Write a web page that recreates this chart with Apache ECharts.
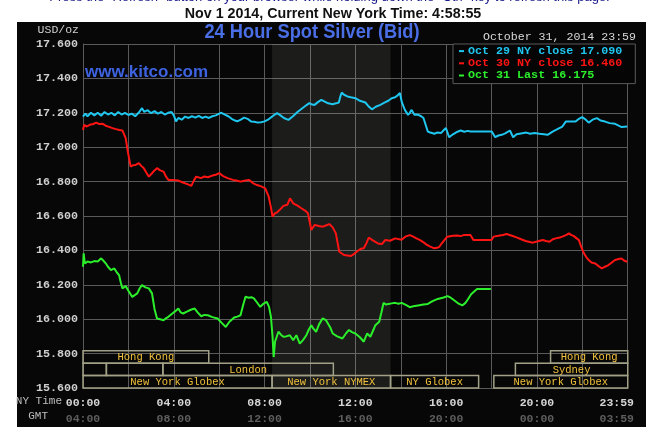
<!DOCTYPE html>
<html><head><meta charset="utf-8">
<script src="https://cdn.jsdelivr.net/npm/echarts/dist/echarts.min.js"></script>
<style>
html,body{margin:0;padding:0;background:#fff;}
#wrap{position:relative;width:659px;height:427px;overflow:hidden;}
#panel{position:absolute;left:17px;top:22px;width:629px;height:405px;background:#070707;}
#chart{position:absolute;left:0;top:0;width:659px;height:427px;}
</style></head><body>
<div id="wrap"><div id="panel"></div><div id="chart"></div></div>
<script>
// ---- data (hours since 00:00 NY time, USD/oz) ----
const seriesNames = ['Oct 29 NY close', 'Oct 30 NY close', 'Oct 31 Last'];
const closeValues = [17.090, 16.460, 16.175];
const seriesColors = ['#1fc6ef', '#ff1414', '#2cef2c'];

const oct29Data = [[0,17.178],[0.1,17.195],[0.2,17.18],[0.35,17.2],[0.5,17.185],[0.65,17.2],[0.8,17.183],[0.95,17.205],[1.1,17.19],[1.25,17.2],[1.4,17.185],[1.55,17.205],[1.7,17.19],[1.85,17.2],[2.0,17.187],[2.15,17.195],[2.3,17.18],[2.45,17.2],[2.6,17.227],[2.7,17.205],[2.85,17.215],[3.0,17.198],[3.15,17.21],[3.3,17.195],[3.45,17.205],[3.6,17.19],[3.75,17.2],[3.9,17.205],[4.0,17.185],[4.1,17.15],[4.2,17.17],[4.35,17.16],[4.5,17.178],[4.65,17.17],[4.8,17.18],[4.95,17.172],[5.1,17.182],[5.25,17.17],[5.4,17.178],[5.55,17.17],[5.7,17.18],[5.85,17.185],[6.0,17.195],[6.1,17.2],[6.25,17.19],[6.4,17.18],[6.55,17.165],[6.7,17.155],[6.8,17.15],[6.95,17.16],[7.1,17.172],[7.25,17.165],[7.4,17.15],[7.55,17.148],[7.7,17.143],[7.85,17.145],[8.0,17.15],[8.15,17.16],[8.3,17.175],[8.45,17.19],[8.55,17.198],[8.7,17.185],[8.85,17.17],[9.05,17.159],[9.25,17.18],[9.45,17.205],[9.65,17.225],[9.85,17.245],[9.97,17.256],[10.1,17.248],[10.2,17.246],[10.35,17.262],[10.5,17.275],[10.65,17.265],[10.8,17.255],[11.0,17.25],[11.15,17.255],[11.27,17.26],[11.35,17.3],[11.4,17.318],[11.5,17.305],[11.65,17.295],[11.8,17.29],[12.0,17.285],[12.2,17.27],[12.44,17.26],[12.6,17.235],[12.73,17.22],[12.9,17.235],[13.1,17.246],[13.3,17.26],[13.45,17.27],[13.6,17.285],[13.75,17.29],[13.85,17.3],[13.96,17.315],[14.05,17.26],[14.18,17.217],[14.32,17.188],[14.4,17.2],[14.47,17.217],[14.55,17.2],[14.61,17.188],[14.75,17.19],[14.9,17.18],[15.0,17.17],[15.08,17.159],[15.19,17.091],[15.3,17.085],[15.48,17.078],[15.6,17.085],[15.77,17.082],[15.9,17.1],[15.99,17.111],[16.13,17.058],[16.3,17.075],[16.5,17.09],[16.64,17.097],[16.8,17.09],[16.95,17.095],[17.07,17.091],[18.01,17.091],[18.16,17.058],[18.3,17.068],[18.45,17.072],[18.6,17.08],[18.81,17.097],[18.95,17.058],[19.1,17.075],[19.3,17.08],[19.53,17.085],[19.7,17.078],[19.9,17.082],[20.11,17.078],[20.3,17.075],[20.47,17.072],[20.69,17.091],[20.9,17.105],[21.12,17.12],[21.27,17.149],[21.5,17.15],[21.7,17.149],[21.85,17.165],[21.99,17.175],[22.15,17.16],[22.28,17.143],[22.45,17.16],[22.64,17.169],[22.8,17.155],[23.0,17.149],[23.2,17.14],[23.44,17.136],[23.6,17.125],[23.73,17.117],[23.98,17.12]];

const oct30Data = [[0,17.10],[0.05,17.13],[0.15,17.12],[0.3,17.13],[0.45,17.135],[0.58,17.143],[0.7,17.135],[0.87,17.136],[1.0,17.125],[1.15,17.118],[1.3,17.111],[1.45,17.105],[1.6,17.1],[1.74,17.097],[1.88,17.053],[1.98,16.97],[2.1,16.887],[2.2,16.895],[2.32,16.897],[2.46,16.907],[2.58,16.89],[2.68,16.878],[2.8,16.85],[2.9,16.829],[3.05,16.85],[3.15,16.865],[3.26,16.878],[3.4,16.865],[3.55,16.858],[3.65,16.83],[3.76,16.81],[3.95,16.81],[4.2,16.806],[4.4,16.795],[4.6,16.785],[4.77,16.775],[4.9,16.81],[4.99,16.829],[5.2,16.82],[5.35,16.83],[5.5,16.825],[5.7,16.835],[5.85,16.84],[6.0,16.849],[6.2,16.83],[6.37,16.82],[6.6,16.81],[6.8,16.805],[6.94,16.80],[7.1,16.805],[7.31,16.81],[7.5,16.79],[7.67,16.78],[7.85,16.772],[8.03,16.761],[8.18,16.713],[8.28,16.65],[8.35,16.596],[8.45,16.615],[8.54,16.62],[8.7,16.64],[8.83,16.659],[9.0,16.665],[9.12,16.703],[9.26,16.674],[9.45,16.66],[9.62,16.645],[9.8,16.63],[9.91,16.616],[10.06,16.519],[10.2,16.548],[10.4,16.542],[10.56,16.538],[10.7,16.545],[10.85,16.553],[11.0,16.534],[11.14,16.499],[11.29,16.392],[11.5,16.373],[11.65,16.37],[11.79,16.367],[11.95,16.38],[12.08,16.395],[12.25,16.41],[12.37,16.412],[12.5,16.445],[12.59,16.475],[12.75,16.46],[12.88,16.45],[13.0,16.44],[13.17,16.437],[13.31,16.46],[13.53,16.456],[13.75,16.47],[14.04,16.462],[14.2,16.48],[14.4,16.489],[14.55,16.48],[14.69,16.47],[14.85,16.46],[14.97,16.45],[15.12,16.435],[15.3,16.422],[15.48,16.412],[15.6,16.415],[15.7,16.421],[15.8,16.44],[15.92,16.46],[16.05,16.48],[16.13,16.489],[16.3,16.485],[16.5,16.487],[16.64,16.483],[16.8,16.49],[17.07,16.489],[17.2,16.46],[18.0,16.46],[18.09,16.48],[18.3,16.485],[18.5,16.49],[18.66,16.495],[18.9,16.485],[19.1,16.476],[19.3,16.465],[19.5,16.455],[19.82,16.445],[20.0,16.452],[20.26,16.46],[20.4,16.455],[20.55,16.45],[20.7,16.465],[20.83,16.47],[21.0,16.475],[21.12,16.48],[21.3,16.49],[21.41,16.499],[21.5,16.49],[21.63,16.483],[21.75,16.47],[21.85,16.46],[21.95,16.42],[22.07,16.383],[22.18,16.36],[22.28,16.344],[22.4,16.33],[22.57,16.324],[22.7,16.31],[22.86,16.295],[23.0,16.305],[23.15,16.315],[23.3,16.33],[23.44,16.344],[23.6,16.35],[23.73,16.353],[23.85,16.34],[23.98,16.334]];

const oct31Data = [[0,16.305],[0.03,16.383],[0.08,16.325],[0.2,16.335],[0.35,16.33],[0.5,16.338],[0.65,16.335],[0.8,16.354],[0.9,16.34],[1.0,16.325],[1.1,16.305],[1.23,16.285],[1.38,16.295],[1.5,16.27],[1.59,16.256],[1.67,16.21],[1.74,16.179],[1.88,16.193],[2.0,16.165],[2.17,16.13],[2.28,16.14],[2.39,16.15],[2.5,16.18],[2.6,16.198],[2.75,16.185],[2.9,16.179],[3.04,16.15],[3.15,16.06],[3.26,16.004],[3.4,16.0],[3.55,15.994],[3.65,16.005],[3.76,16.014],[3.95,16.035],[4.1,16.05],[4.2,16.062],[4.3,16.04],[4.41,16.033],[4.6,16.045],[4.75,16.055],[4.92,16.062],[5.05,16.04],[5.21,16.017],[5.35,16.025],[5.5,16.023],[5.7,16.012],[5.93,16.004],[6.1,15.98],[6.29,15.955],[6.45,15.985],[6.66,16.01],[6.8,16.015],[6.94,16.023],[7.05,16.08],[7.16,16.13],[7.3,16.125],[7.42,16.128],[7.53,16.121],[7.65,16.1],[7.81,16.072],[7.95,16.09],[8.1,16.101],[8.2,16.07],[8.28,16.014],[8.35,15.9],[8.4,15.78],[8.46,15.869],[8.61,15.927],[8.72,15.91],[8.83,15.898],[8.95,15.9],[9.11,15.907],[9.26,15.878],[9.4,15.907],[9.55,15.858],[9.7,15.88],[9.84,15.907],[9.95,15.94],[10.06,15.965],[10.15,15.945],[10.27,15.927],[10.4,15.97],[10.56,16.005],[10.7,15.995],[10.78,15.985],[10.9,15.95],[11.0,15.917],[11.2,15.9],[11.43,15.888],[11.6,15.92],[11.72,15.937],[11.85,15.925],[12.0,15.917],[12.2,15.895],[12.37,15.869],[12.52,15.917],[12.66,15.898],[12.8,15.94],[12.88,15.965],[13.05,15.985],[13.15,16.04],[13.24,16.095],[13.35,16.085],[13.46,16.089],[13.6,16.092],[13.75,16.095],[13.9,16.09],[14.04,16.095],[14.2,16.085],[14.4,16.07],[14.55,16.075],[14.76,16.08],[15.0,16.085],[15.19,16.089],[15.4,16.105],[15.63,16.118],[15.85,16.125],[16.06,16.134],[16.2,16.125],[16.35,16.11],[16.55,16.09],[16.71,16.08],[16.85,16.095],[16.93,16.11],[17.1,16.145],[17.22,16.159],[17.36,16.175],[17.97,16.175]];

// NYMEX trading window (shaded)
const nymexWindow = [8.33, 13.55];

// market session bars: start hour, end hour, row, label
const sessionStart = [0, 20.6, 0, 1.03, 3.52, 19.05, 0, 8.33, 13.55, 18.1];
const sessionEnd   = [5.54, 24, 1.03, 3.52, 11.03, 24, 8.33, 13.55, 17.43, 24];
const sessionRow   = [0, 0, 1, 1, 1, 1, 2, 2, 2, 2];
const sessionLabel = ['Hong Kong', 'Hong Kong', '', '', 'London', 'Sydney', 'New York Globex', 'New York NYMEX', 'NY Globex', 'New York Globex'];

// axis
const yMin = 15.6, yMax = 17.6, yStep = 0.2;
const nyTimeLabels = ['00:00', '04:00', '08:00', '12:00', '16:00', '20:00', '23:59'];
const gmtLabels    = ['04:00', '08:00', '12:00', '16:00', '20:00', '00:00', '03:59'];

// ---- chart ----
const chart = echarts.init(document.getElementById('chart'), null, {renderer: 'canvas'});
const mono = '"Liberation Mono", "DejaVu Sans Mono", monospace';

const sessionData = sessionStart.map((s, i) => [s, sessionEnd[i], sessionRow[i], i]);

const lineSeries = seriesNames.map((n, i) => ({
  name: n + ' ' + closeValues[i].toFixed(3),
  type: 'line',
  data: [oct29Data, oct30Data, oct31Data][i],
  showSymbol: false,
  symbol: 'none',
  lineStyle: {color: seriesColors[i], width: 2},
  itemStyle: {color: seriesColors[i]},
  z: 3,
  animation: false
}));

chart.setOption({
  backgroundColor: 'transparent',
  animation: false,
  grid: {left: 83, top: 44, right: 23, bottom: 39},
  xAxis: {
    type: 'value', min: 0, max: 24, interval: 2,
    axisLine: {show: false}, axisTick: {show: false},
    splitLine: {show: true, lineStyle: {color: '#5a5a5a', width: 1}},
    axisLabel: {
      margin: 7,
      formatter: function (v) {
        if (v % 4 !== 0) return '';
        const k = v / 4;
        if (k === nyTimeLabels.length - 1) return '{nl|' + nyTimeLabels[k] + '}\n{gl|' + gmtLabels[k] + '}';
        return '{n|' + nyTimeLabels[k] + '}\n{g|' + gmtLabels[k] + '}';
      },
      rich: {
        n: {color: '#d6d6d6', fontFamily: mono, fontWeight: 'bold', fontSize: 11.5, lineHeight: 16},
        g: {color: '#5e5e5e', fontFamily: mono, fontWeight: 'bold', fontSize: 11.5, lineHeight: 16},
        nl: {color: '#d6d6d6', fontFamily: mono, fontWeight: 'bold', fontSize: 11.5, lineHeight: 16, padding: [0, 22, 0, 0]},
        gl: {color: '#5e5e5e', fontFamily: mono, fontWeight: 'bold', fontSize: 11.5, lineHeight: 16, padding: [0, 22, 0, 0]}
      }
    }
  },
  yAxis: {
    type: 'value', min: yMin, max: yMax, interval: yStep,
    name: 'USD/oz', nameLocation: 'end', nameGap: 14,
    nameTextStyle: {color: '#cfcfcf', fontFamily: mono, fontSize: 11.5, align: 'right', verticalAlign: 'middle', padding: [0, 4, 0, 0]},
    axisLine: {show: true, lineStyle: {color: '#5a5a5a', width: 1}},
    axisTick: {show: false},
    splitLine: {show: true, lineStyle: {color: '#5a5a5a', width: 1}},
    axisLabel: {
      margin: 5, color: '#cfcfcf', fontFamily: mono, fontWeight: 'bold', fontSize: 11.7,
      formatter: v => v.toFixed(3)
    }
  },
  legend: {
    data: lineSeries.map((s, i) => ({name: s.name, textStyle: {color: seriesColors[i]}})),
    orient: 'vertical', left: 453, top: 44,
    backgroundColor: '#050505', borderColor: '#5a5a5a', borderWidth: 1,
    padding: [1, 13, 2, 6], itemGap: 0,
    icon: 'rect', itemWidth: 5, itemHeight: 2,
    textStyle: {fontFamily: mono, fontWeight: 'bold', fontSize: 11.7, lineHeight: 12.2, padding: [0, 0, 0, -1]},
    selectedMode: false
  },
  graphic: [
    {type: 'text', left: 'center', top: -9, silent: true,
     style: {text: 'Press the "Refresh" button on your browser while holding down the "Ctrl" key to refresh this page.',
             fill: '#1a1a8c', font: '13px "Liberation Sans", Arial, sans-serif'}},
    {type: 'text', x: 333, y: 14, scaleX: 0.95, silent: true,
     style: {text: 'Nov 1 2014, Current New York Time: 4:58:55', fill: '#111', align: 'center', verticalAlign: 'middle',
             font: 'bold 15px "Liberation Sans", Arial, sans-serif'}},
    {type: 'text', x: 312, y: 32, scaleX: 0.87, silent: true,
     style: {text: '24 Hour Spot Silver (Bid)', fill: '#4a6ee6', align: 'center', verticalAlign: 'middle',
             font: 'bold 21px "Liberation Sans", Arial, sans-serif'}},
    {type: 'text', x: 85, y: 72, silent: true,
     style: {text: 'www.kitco.com', fill: '#3d63e0', align: 'left', verticalAlign: 'middle',
             font: 'bold 17px "Liberation Sans", Arial, sans-serif'}},
    {type: 'text', x: 636, y: 37, silent: true,
     style: {text: 'October 31, 2014 23:59', fill: '#d8d8d8', align: 'right', verticalAlign: 'middle',
             font: '11.6px ' + mono}},
    {type: 'text', x: 62, y: 401, silent: true,
     style: {text: 'NY Time', fill: '#bdbdbd', align: 'right', verticalAlign: 'middle', font: '11px ' + mono}},
    {type: 'text', x: 48, y: 416, silent: true,
     style: {text: 'GMT', fill: '#bdbdbd', align: 'right', verticalAlign: 'middle', font: '11px ' + mono}}
  ],
  series: [
    {
      type: 'line', data: [], z: 1, silent: true,
      markArea: {silent: true, itemStyle: {color: 'rgba(255,255,235,0.085)'},
        data: [[{xAxis: nymexWindow[0]}, {xAxis: nymexWindow[1]}]]}
    },
    ...lineSeries,
    {
      type: 'custom', z: 4, silent: true,
      data: sessionData,
      encode: {x: [0, 1]},
      renderItem: function (params, api) {
        const s = api.value(0), e = api.value(1), row = api.value(2);
        const idx = api.value(3);
        const p0 = api.coord([s, yMin]);
        const p1 = api.coord([e, yMin]);
        const rowH = 12.4;
        const top = p0[1] - (3 - row) * rowH;
        return {
          type: 'group',
          children: [
            {type: 'rect', shape: {x: p0[0], y: top, width: p1[0] - p0[0], height: rowH},
             style: {fill: 'none', stroke: '#a2a187', lineWidth: 1.5}},
            {type: 'text', style: {text: sessionLabel[idx], x: (p0[0] + p1[0]) / 2, y: top + rowH / 2 + 0.5,
              align: 'center', verticalAlign: 'middle', fill: '#f2c23c', font: '10.5px ' + mono}}
          ]
        };
      }
    }
  ]
});
</script>
</body></html>
